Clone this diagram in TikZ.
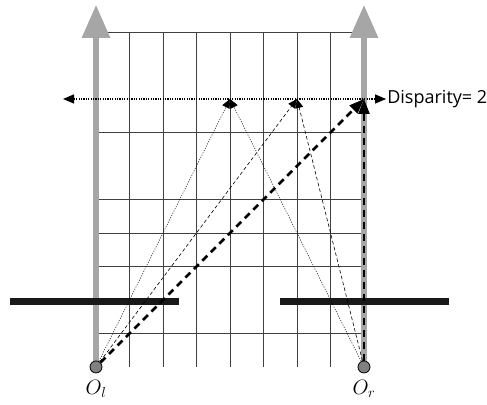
\documentclass[tikz,border=0pt]{standalone}
\usepackage{fontspec}
\newfontfamily\dispfont{Open Sans}
\usetikzlibrary{arrows.meta, positioning}

\begin{document}
\begin{tikzpicture}[x=33.5pt, y=33.5pt,
  gridline/.style={black!75, line width=0.7pt},
  axis/.style={draw=black!35, line width=6pt, -{Triangle[width=27pt, length=33pt]}},
  sensor/.style={black!90, line width=7pt},
  cam/.style={circle, draw=black, line width=0.8pt, fill=black!50, minimum size=12pt, inner sep=0pt},
  camlabel/.style={font=\fontsize{22}{24}\selectfont, inner sep=0pt},
  epiline/.style={line width=1.2pt, dash pattern=on 1.2pt off 1.2pt, {Triangle[width=9pt, length=11pt]}-{Triangle[width=9pt, length=11pt]}},
  rayA/.style={line width=0.6pt, dash pattern=on 1pt off 1.5pt, -{Triangle[width=8pt, length=9pt]}},
  rayB/.style={line width=0.6pt, dash pattern=on 3.5pt off 2.5pt, -{Triangle[width=8pt, length=9pt]}},
  rayC/.style={line width=2.5pt, dash pattern=on 7pt off 5pt, -{Triangle[width=11pt, length=15pt]}}
]
\useasboundingbox (-2.866,-1.134) rectangle (11.672,10.955);

% grid
\foreach \i in {1,...,7}
  \draw [gridline] (\i,0) -- (\i,10);
\foreach \j in {1,3,4,5,7,10}
  \draw [gridline] (0,\j) -- (8,\j);

% optical axes
\coordinate (topL) at (0,10.81);
\coordinate (topR) at (8,10.81);
\draw [axis] (0,0) -- (topL);
\draw [axis] (8,0) -- (topR);

% camera centres
\node (Ol) [cam] at (0,0) {};
\node (Or) [cam] at (8,0) {};

% image planes
\draw [sensor] (-2.567,1.94) -- (2.478,1.94);
\draw [sensor] (5.49,1.94) -- (10.54,1.94);

% labels
\node (lblL) [camlabel, below=7pt of Ol] {$O_l$};
\node (lblR) [camlabel, below=7pt of Or] {$O_r$};

% disparity line
\coordinate (dleft) at (-0.985,8);
\node (disp) [right, inner sep=1pt, font=\dispfont\fontsize{18}{20}\selectfont] at (8.66,8) {Disparity= 2};
\draw [epiline] (dleft) -- (disp.west);

% points
\coordinate (p4) at (4,8);
\coordinate (p6) at (6,8);
\coordinate (p8) at (8,8);

% rays
\draw [rayA] (Ol) -- (p4);
\draw [rayA] (Or) -- (p4);
\draw [rayB] (Ol) -- (p6);
\draw [rayB] (Or) -- (p6);
\draw [rayC] (Ol) -- (p8);
\draw [rayC] (Or) -- (p8);

\end{tikzpicture}
\end{document}
